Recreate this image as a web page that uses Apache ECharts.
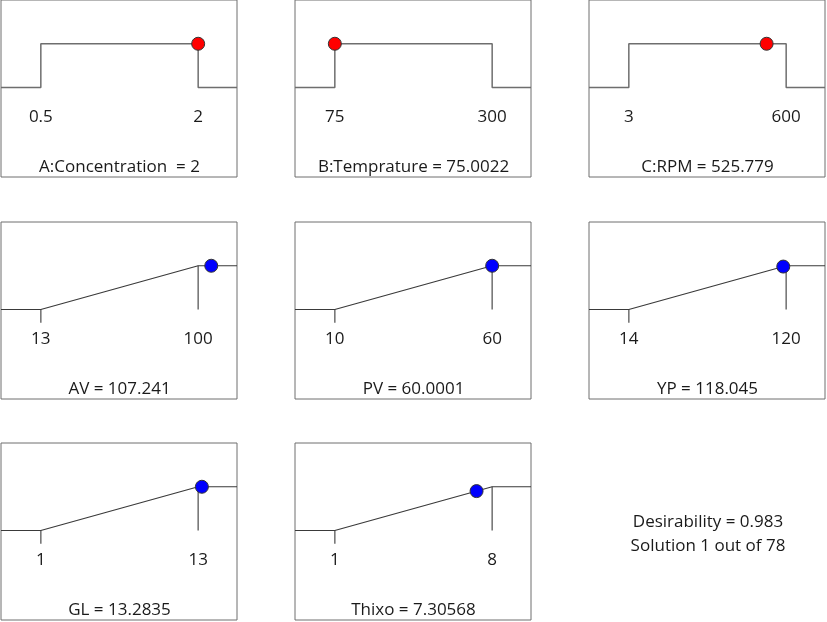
<!DOCTYPE html>
<html>
    <head>
        <meta charset="utf-8">
        <script src="https://cdn.jsdelivr.net/npm/echarts@6/dist/echarts.min.js"></script>
    </head>
    <body>
        <style>
            html, body, #main {
                margin: 0;
                width: 827px;
                height: 622px;
                background: #fff;
            }
        </style>

        <div id="main"></div>

        <script>
            // panel names, limits and the optimum found
            const names = ['A:Concentration ', 'B:Temprature', 'C:RPM', 'AV', 'PV', 'YP', 'GL', 'Thixo'];
            const kinds = ['factor', 'factor', 'factor', 'max', 'max', 'max', 'max', 'max'];
            const lows = [0.5, 75, 3, 13, 10, 14, 1, 1];
            const highs = [2, 300, 600, 100, 60, 120, 13, 8];
            const values = [2, 75.0022, 525.779, 107.241, 60.0001, 118.045, 13.2835, 7.30568];
            const desirability = 0.983;
            const solutionNo = 1;
            const solutionCount = 78;

            var chart = echarts.init(document.querySelector('#main'));

            const colX = [1, 295, 589];
            const rowY = [0, 222, 443];
            const W = 237, H = 178;
            const FONT = '"Open Sans", sans-serif';

            var grids = [], xAxes = [], yAxes = [], series = [], titles = [];

            names.forEach(function (name, i) {
                var left = colX[i % 3], top = rowY[Math.floor(i / 3)];
                var lo = lows[i], hi = highs[i], v = values[i];
                var span = hi - lo;
                var xmin = lo - span * 40 / 158, xmax = hi + span * 39 / 158;

                grids.push({left: left, top: top, width: W - 1, height: H - 1, show: true,
                    borderColor: '#6e6e6e', borderWidth: 1, backgroundColor: '#fff'});
                xAxes.push({
                    type: 'value', gridIndex: i, min: xmin, max: xmax,
                    axisLine: {show: false}, axisTick: {show: false}, splitLine: {show: false},
                    axisLabel: {
                        show: true, inside: true, margin: 51, customValues: [lo, hi],
                        color: '#1a1a1a', fontSize: 17, fontFamily: FONT
                    }
                });
                yAxes.push({type: 'value', gridIndex: i, min: -2.045, max: 2, show: false});

                var profile, d;
                if (kinds[i] === 'factor') {
                    profile = [[xmin, 0], [lo, 0], [lo, 1], [hi, 1], [hi, 0], [xmax, 0]];
                    d = 1;
                } else {
                    profile = [[xmin, 0], [lo, 0], [hi, 1], [xmax, 1]];
                    d = Math.max(0, Math.min(1, (v - lo) / span));
                    series.push({type: 'line', xAxisIndex: i, yAxisIndex: i, showSymbol: false, silent: true,
                        data: [[lo, 0], [lo, -0.3]], lineStyle: {color: '#6e6e6e', width: 1.5}});
                    series.push({type: 'line', xAxisIndex: i, yAxisIndex: i, showSymbol: false, silent: true,
                        data: [[hi, 1], [hi, 0]], lineStyle: {color: '#6e6e6e', width: 1.5}});
                }
                series.push({
                    type: 'line', xAxisIndex: i, yAxisIndex: i, showSymbol: false, silent: true,
                    data: profile,
                    lineStyle: {color: kinds[i] === 'factor' ? '#6e6e6e' : '#3a3a3a', width: kinds[i] === 'factor' ? 1.5 : 1.2}
                });
                series.push({
                    type: 'scatter', xAxisIndex: i, yAxisIndex: i, z: 5, symbolSize: 13,
                    data: [[v, d]],
                    itemStyle: {color: kinds[i] === 'factor' ? '#ff0000' : '#0000ff', borderColor: '#333', borderWidth: 1, opacity: 1}
                });

                titles.push({
                    text: name + ' = ' + v, left: left + W / 2, top: top + 159, textAlign: 'center', padding: 0,
                    textStyle: {fontSize: 17, fontWeight: 'normal', color: '#1a1a1a', fontFamily: FONT}
                });
            });

            titles.push({
                text: 'Desirability = ' + desirability + '\nSolution ' + solutionNo + ' out of ' + solutionCount,
                left: 708, top: 510, textAlign: 'center', padding: 0,
                textStyle: {fontSize: 17, fontWeight: 'normal', color: '#1a1a1a', fontFamily: FONT, lineHeight: 24}
            });

            chart.setOption({
                animation: false,
                title: titles,
                grid: grids,
                xAxis: xAxes,
                yAxis: yAxes,
                series: series
            });
        </script>
    </body>
</html>
